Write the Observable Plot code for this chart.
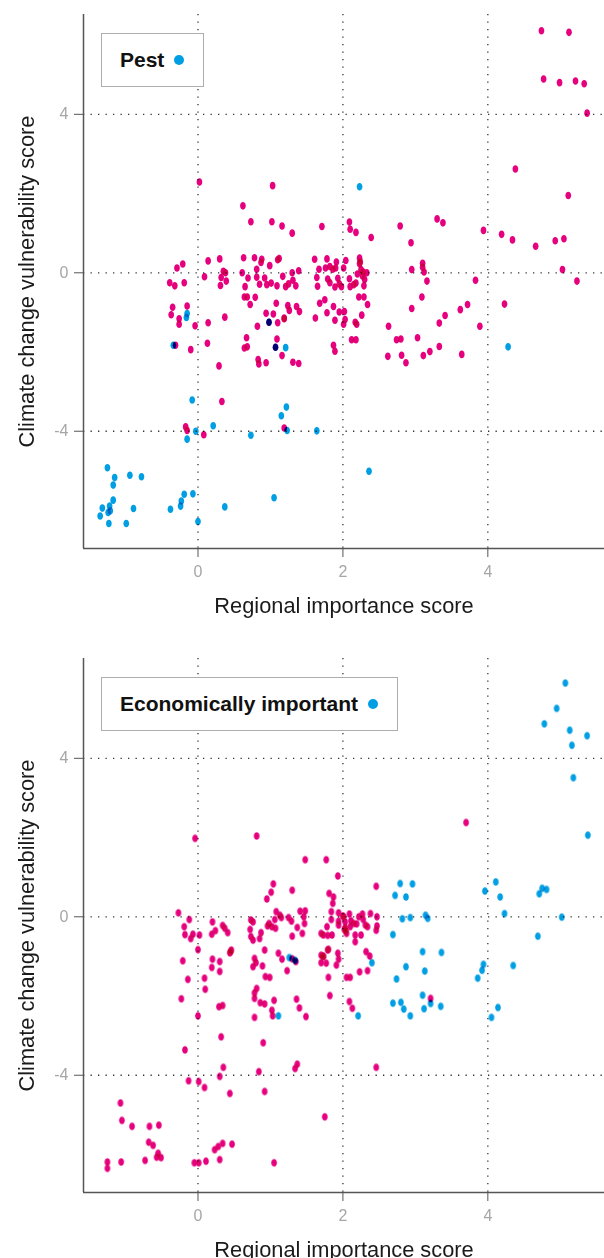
<!DOCTYPE html>
<html><head><meta charset="utf-8">
<script src="https://cdn.jsdelivr.net/npm/d3@7"></script>
<script src="https://cdn.jsdelivr.net/npm/@observablehq/plot@0.6"></script>
<style>
body{margin:0;background:#fff;font-family:"Liberation Sans",Arial,sans-serif;}
.panel{position:relative;width:604px;height:644px;overflow:visible;}
.legend{position:absolute;box-sizing:border-box;border:1.5px solid #adadad;display:flex;align-items:center;font-weight:bold;font-size:21px;color:#111;background:#fff;padding-left:18px;height:54px;top:33px;left:101px;}
.legend .dot{display:inline-block;width:10px;height:10px;border-radius:50%;background:#009fe3;margin-left:10px;}
</style></head><body>
<div id="charts"></div>
<script>
// ---------- data ----------
const xTicks = [0, 2, 4];
const yTicks = [-4, 0, 4];
const xLabel = "Regional importance score";
const yLabel = "Climate change vulnerability score";
const legendTop = "Pest";
const legendBottom = "Economically important";
const pinkColor = "#e6007e";
const blueColor = "#009fe3";

// Top panel: not pest (pink)
const pestNo = [
[4.74,6.11],[5.12,6.07],[4.77,4.89],[4.99,4.80],[5.21,4.84],[5.33,4.77],[5.37,4.03],[4.38,2.62],[5.11,1.95],[0.02,2.29],[1.03,2.20],[0.62,1.69],[0.73,1.29],[1.02,1.29],[1.16,1.18],[1.30,1.00],[1.71,1.17],[2.09,1.28],[2.10,1.10],[2.18,1.02],[2.39,0.89],[2.79,1.18],[2.94,0.76],[3.30,1.36],[3.38,1.26],[3.94,1.07],[4.19,0.97],[4.34,0.83],[4.66,0.67],[4.93,0.81],[5.05,0.86],[5.03,0.08],[5.23,-0.21],[4.23,-0.79],[3.83,-0.19],
[-0.39,-0.25],[-0.32,-0.33],[-0.19,-0.25],[-0.29,0.12],[-0.21,0.22],[-0.35,-0.87],[-0.37,-1.06],[-0.15,-0.84],[0.09,-0.10],[0.14,0.30],[0.30,0.35],[0.35,0.04],[0.38,0.00],[0.32,-0.12],[0.39,-0.21],[0.31,-0.32],[0.37,-1.12],[0.63,0.38],[0.78,0.38],[0.88,0.34],[0.87,0.26],[1.10,0.33],[1.12,0.36],[0.99,0.18],[0.61,0.00],[0.69,-0.13],[0.81,0.09],[0.81,-0.11],[0.92,-0.13],[0.65,-0.35],[0.85,-0.29],[0.95,-0.30],[1.01,-0.26],[1.09,-0.33],[1.17,-0.09],[1.21,-0.35],[1.25,-0.28],[1.30,0.00],[1.31,-0.19],[1.35,-0.33],[1.39,0.05],[0.64,-0.61],[0.68,-0.61],[0.79,-0.62],[0.72,-0.80],[1.08,-0.77],[1.24,-0.83],[1.36,-0.85],[0.94,-1.02],[1.04,-1.04],[1.26,-0.95],[1.40,-0.98],[1.19,-1.14],
[1.61,0.34],[1.78,0.35],[1.91,0.27],[2.04,0.31],[1.67,0.09],[1.76,0.12],[1.82,0.16],[1.86,0.09],[1.90,0.12],[2.01,0.12],[2.23,0.37],[2.23,0.23],[2.25,0.08],[2.33,0.00],[2.20,-0.03],[2.27,-0.08],[2.30,-0.17],[1.64,-0.12],[1.65,-0.34],[1.79,-0.16],[1.82,-0.25],[1.89,-0.36],[1.95,-0.28],[1.98,-0.35],[1.93,-0.14],[2.09,-0.15],[2.15,-0.30],[2.10,-0.35],[2.18,-0.26],[2.29,-0.33],[2.22,-0.61],[2.29,-0.61],[2.34,-0.80],[1.68,-0.77],[1.75,-0.68],[1.87,-0.85],[1.78,-1.01],[1.95,-0.99],[2.02,-0.98],[2.26,-1.07],[2.24,0.27],[2.28,0.02],
[2.95,0.08],[3.10,0.24],[3.10,0.14],[3.12,0.02],[3.16,-0.21],[3.09,-0.61],[2.95,-0.90],[3.62,-0.93],[3.72,-0.80],[3.41,-1.08],
[-0.26,-1.16],[-0.26,-1.30],[-0.04,-1.34],[0.14,-1.26],[-0.31,-1.83],[-0.10,-1.94],[0.13,-1.78],[0.29,-2.35],[0.33,-3.25],[-0.17,-3.89],[-0.15,-3.98],[0.08,-4.09],[0.67,-1.64],[0.64,-1.90],[0.68,-1.87],[0.82,-1.35],[0.83,-2.19],[0.84,-2.30],[0.94,-2.27],[0.98,-1.25],[1.10,-1.26],[1.09,-1.67],[1.07,-1.88],[1.16,-2.09],[1.19,-1.16],[1.31,-2.26],[1.39,-2.29],[1.19,-3.92],[1.62,-1.14],[1.89,-1.20],[1.87,-1.83],[1.89,-1.98],[2.03,-1.18],[2.01,-1.30],[2.17,-1.25],[2.19,-1.30],[2.12,-1.69],[2.18,-1.69],[2.63,-1.35],[2.62,-2.11],[2.74,-1.69],[2.80,-1.67],[2.81,-2.08],[2.87,-2.27],[3.03,-1.64],[3.11,-2.09],[3.20,-1.99],[3.33,-1.27],[3.33,-1.86],[3.64,-2.06],[3.89,-1.35]
];
// Top panel: pest (blue)
const pestYes = [
[2.23,2.17],[-0.15,-1.03],[-0.16,-1.13],[-0.34,-1.83],[0.98,-1.25],[1.07,-1.88],[1.21,-1.89],[-0.08,-3.21],[-0.03,-4.00],[-0.15,-4.20],[0.21,-3.86],[0.73,-4.10],[1.15,-3.61],[1.22,-3.39],[1.23,-3.98],[1.64,-3.99],[2.36,-5.01],[4.28,-1.87],
[-1.25,-4.92],[-1.15,-5.17],[-1.17,-5.36],[-0.94,-5.11],[-0.78,-5.15],[-1.17,-5.74],[-1.32,-5.94],[-1.22,-5.89],[-1.21,-6.01],[-1.24,-6.05],[-1.35,-6.14],[-1.23,-6.33],[-0.99,-6.33],[-0.89,-5.95],[-0.38,-5.97],[-0.24,-5.89],[-0.23,-5.76],[-0.19,-5.59],[-0.07,-5.58],[0.00,-6.28],[0.37,-5.91],[1.05,-5.68]
];
// Bottom panel: not economically important (pink)
const econNo = [
[3.70,2.38],[-0.04,1.98],[0.81,2.04],[1.48,1.44],[1.77,1.44],[1.93,1.03],[2.46,0.77],[1.04,0.83],[1.01,0.62],[0.95,0.45],[1.30,0.67],[1.81,0.59],[1.87,0.50],[1.86,0.34],
[-0.27,0.10],[-0.12,-0.07],[-0.19,-0.25],[-0.18,-0.45],[-0.10,-0.55],[-0.07,-0.44],[0.02,-0.46],[0.00,-0.83],[0.20,-0.13],[0.19,-0.44],[0.24,-0.35],[0.34,-0.22],[0.37,-0.29],[0.41,-0.40],[0.46,-0.84],[0.45,-0.88],
[0.73,-0.08],[0.76,-0.13],[0.72,-0.32],[0.73,-0.50],[0.76,-0.59],[0.87,-0.40],[0.85,-0.55],[0.92,-0.84],[0.96,-0.23],[0.98,-0.17],[1.02,-0.25],[1.08,0.13],[1.06,-0.07],[1.07,-0.29],[1.13,0.04],[1.15,-0.02],[1.25,-0.02],[1.29,-0.11],[1.30,-0.49],[1.41,0.14],[1.48,0.15],[1.46,0.00],[1.47,-0.17],[1.37,-0.27],[1.44,-0.42],[1.11,-0.92],
[1.70,-0.42],[1.73,-0.46],[1.78,-0.25],[1.79,-0.47],[1.85,-0.46],[1.84,0.13],[1.84,-0.07],[1.94,0.10],[1.94,-0.11],[1.94,-0.21],[2.01,0.00],[2.03,-0.13],[2.02,-0.32],[2.05,-0.42],[2.09,0.07],[2.11,-0.10],[2.10,-0.25],[2.15,-0.17],[2.19,-0.18],[2.17,-0.46],[2.17,-0.63],[2.25,-0.46],[2.22,0.00],[2.27,0.07],[2.28,-0.07],[2.31,-0.21],[2.38,0.08],[2.34,-0.25],[2.47,0.00],[2.47,-0.23],[2.46,-0.34],[2.32,-0.88],[2.37,-0.99],[1.70,-0.97],[1.73,-1.01],[1.79,-0.84],[1.93,-0.92],[2.03,-0.28],[2.00,0.02],[2.04,-0.36],
[-0.21,-1.11],[-0.14,-1.58],[-0.23,-2.07],[0.09,-1.55],[0.10,-1.83],[0.20,-1.07],[0.19,-1.28],[0.30,-1.13],[0.30,-1.38],[0.44,-0.91],[0.29,-2.27],[0.34,-2.24],[0.00,-2.50],[0.32,-3.03],[-0.18,-3.36],[0.35,-3.80],[0.30,-4.03],[-0.13,-4.14],[0.01,-4.16],[0.09,-4.31],[0.44,-4.46],
[0.78,-1.05],[0.80,-1.16],[0.76,-1.26],[0.89,-1.24],[0.93,-1.51],[0.99,-1.53],[0.81,-1.81],[0.78,-1.92],[0.78,-2.06],[0.86,-2.17],[0.92,-2.20],[0.78,-2.54],[1.05,-2.11],[1.02,-2.36],[1.03,-2.50],[1.16,-1.07],[1.23,-1.36],[1.30,-1.06],[1.35,-1.13],[1.36,-2.08],[1.40,-2.30],[1.49,-2.52],[0.90,-3.18],[0.84,-3.91],[0.92,-4.41],[1.37,-3.72],[1.34,-3.83],
[1.70,-1.16],[1.73,-0.99],[1.77,-1.17],[1.80,-0.82],[1.94,-1.07],[1.91,-1.22],[1.80,-1.53],[1.82,-1.99],[1.75,-5.05],[2.05,-1.53],[2.10,-1.53],[2.09,-2.14],[2.13,-2.31],[2.23,-1.39],[2.34,-1.36],[2.46,-3.80],[3.21,-2.06],
[-1.07,-4.70],[-1.05,-5.14],[-0.91,-5.29],[-0.67,-5.29],[-0.54,-5.26],[-0.68,-5.69],[-0.62,-5.77],[-0.55,-5.97],[-0.57,-6.07],[-0.51,-6.08],[-0.73,-6.15],[-1.06,-6.19],[-1.25,-6.19],[-1.25,-6.35],[-0.05,-6.21],[0.01,-6.21],[0.11,-6.17],[0.30,-6.13],[0.23,-5.88],[0.28,-5.80],[0.34,-5.72],[0.47,-5.74],[1.05,-6.21]
];
// Bottom panel: economically important (blue)
const econYes = [
[5.07,5.90],[4.95,5.26],[4.78,4.87],[5.13,4.71],[5.16,4.33],[5.37,4.57],[5.18,3.51],[5.38,2.06],[2.79,0.84],[2.96,0.83],[2.72,0.54],[2.87,0.50],[2.82,-0.05],[2.93,-0.02],[3.14,0.04],[3.17,-0.04],[2.69,-0.45],[3.10,-0.88],[3.36,-0.90],[3.96,0.65],[4.11,0.88],[4.17,0.50],[4.23,0.08],[4.71,0.58],[4.75,0.72],[4.81,0.69],[5.02,-0.01],[4.69,-0.49],
[2.40,-1.16],[2.87,-1.26],[3.13,-1.37],[2.74,-1.57],[3.94,-1.20],[3.92,-1.35],[3.86,-1.55],[4.35,-1.23],[3.10,-1.98],[2.69,-2.18],[2.80,-2.16],[2.84,-2.33],[2.93,-2.50],[3.12,-2.32],[3.21,-2.19],[3.35,-2.26],[4.14,-2.29],[4.05,-2.54],[2.21,-2.50],[1.11,-2.50],[1.26,-1.03],[1.34,-1.10]
];

// ---------- drawing ----------
const xDomain = [-1.58, 5.61];
const yDomain = [-6.96, 6.52];
const ellipse = {
  draw(ctx) {
    const rx = 2.85, ry = 3.8, k = 0.5523;
    ctx.moveTo(rx, 0);
    ctx.bezierCurveTo(rx, k*ry, k*rx, ry, 0, ry);
    ctx.bezierCurveTo(-k*rx, ry, -rx, k*ry, -rx, 0);
    ctx.bezierCurveTo(-rx, -k*ry, -k*rx, -ry, 0, -ry);
    ctx.bezierCurveTo(k*rx, -ry, rx, -k*ry, rx, 0);
    ctx.closePath();
  }
};
const font = "'Liberation Sans', Arial, Helvetica, sans-serif";

function makePanel(pink, blue, legendText, perElement) {
  const plot = Plot.plot({
    width: 604, height: 644,
    marginLeft: 83, marginRight: 0, marginTop: 14, marginBottom: 96,
    style: {fontFamily: font, background: "#fff", overflow: "visible"},
    x: {domain: xDomain},
    y: {domain: yDomain},
    marks: [
      Plot.ruleX(xTicks, {stroke: "#333", strokeWidth: 1.3, strokeDasharray: "1.3,6.2"}),
      Plot.ruleY(yTicks, {stroke: "#333", strokeWidth: 1.3, strokeDasharray: "1.3,6.2"}),
      Plot.ruleX([xDomain[0]], {stroke: "#555", strokeWidth: 1.5}),
      Plot.ruleY([yDomain[0]], {stroke: "#555", strokeWidth: 1.5}),
      Plot.axisX(xTicks, {tickSize: 9, tickPadding: 8, tickFormat: d => String(d), stroke: "#555", fill: "#a6a6a6", fontSize: 16, label: null}),
      Plot.axisY(yTicks, {tickSize: 9, tickPadding: 6, tickFormat: d => String(d), stroke: "#555", fill: "#a6a6a6", fontSize: 16, label: null}),
      Plot.text([xLabel], {frameAnchor: "bottom", dy: 64, lineAnchor: "bottom", textAnchor: "middle", fontSize: 21.8, fill: "#1a1a1a"}),
      Plot.text([yLabel], {frameAnchor: "left", dx: -50, rotate: -90, lineAnchor: "bottom", textAnchor: "middle", fontSize: 21.8, fill: "#1a1a1a"}),
      Plot.dot(pink, {x: d => d[0], y: d => d[1], fill: pinkColor, stroke: null, symbol: ellipse, r: 3, mixBlendMode: perElement ? null : "multiply"}),
      Plot.dot(blue, {x: d => d[0], y: d => d[1], fill: blueColor, stroke: null, symbol: ellipse, r: 3, mixBlendMode: perElement ? null : "multiply"})
    ]
  });
  if (perElement) {
    plot.querySelectorAll('g[aria-label="dot"] path').forEach(p => p.style.mixBlendMode = "multiply");
  }
  const wrap = document.createElement("div");
  wrap.className = "panel";
  wrap.appendChild(plot);
  const leg = document.createElement("div");
  leg.className = "legend";
  const t = document.createElement("span");
  t.textContent = legendText;
  const dot = document.createElement("span");
  dot.className = "dot";
  leg.appendChild(t); leg.appendChild(dot);
  leg.style.paddingRight = "19px";
  wrap.appendChild(leg);
  return wrap;
}

const charts = document.getElementById("charts");
charts.appendChild(makePanel(pestNo, pestYes, legendTop, false));
charts.appendChild(makePanel(econNo, econYes, legendBottom, true));
</script>
</body></html>
